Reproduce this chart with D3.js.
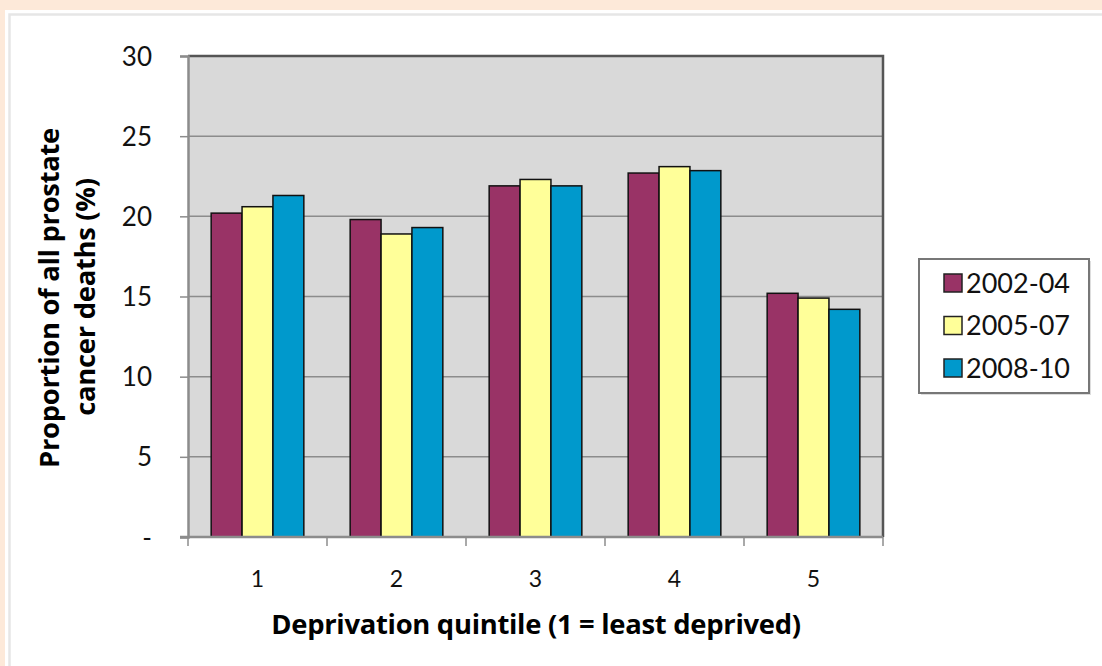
<!DOCTYPE html>
<html><head><meta charset="utf-8">
<script src="https://cdn.jsdelivr.net/npm/d3@7"></script>
<style>
html,body{margin:0;padding:0;background:#fde9d9;}
svg{display:block;}
</style></head>
<body>
<svg id="chart" width="1102" height="666"></svg>
<script>
const categories = ["1","2","3","4","5"];
const seriesNames = ["2002-04","2005-07","2008-10"];
const values2002_04 = [20.2, 19.8, 21.9, 22.7, 15.2];
const values2005_07 = [20.6, 18.9, 22.3, 23.1, 14.9];
const values2008_10 = [21.3, 19.3, 21.9, 22.85, 14.2];
const seriesColors = ["#993366", "#ffff99", "#0099cc"];
const yTicks = [0, 5, 10, 15, 20, 25, 30];
const yTickLabels = ["-", "5", "10", "15", "20", "25", "30"];

const allSeries = [values2002_04, values2005_07, values2008_10];
const font = "Lato, 'Open Sans', sans-serif";
const titleFont = "'Open Sans', Lato, sans-serif";

const svg = d3.select("#chart");
svg.append("rect").attr("x",5).attr("y",10).attr("width",1097).attr("height",656).attr("fill","#ffffff");
svg.append("path").attr("d","M9.5,666 V14.5 H1102").attr("fill","none").attr("stroke","#e6e6e6").attr("stroke-width",2.5);

const plot = {left:188, top:56, right:883, bottom:537};
const x0 = d3.scaleBand().domain(categories).range([plot.left, plot.right]).paddingInner(0).paddingOuter(0);
const bw = x0.bandwidth()/4.5;
const x1 = d3.scaleBand().domain(d3.range(3)).range([0, bw*3]);
const y = d3.scaleLinear().domain([0,30]).range([plot.bottom, plot.top]);

svg.append("rect").attr("x",plot.left).attr("y",plot.top).attr("width",plot.right-plot.left).attr("height",plot.bottom-plot.top).attr("fill","#d9d9d9");

svg.append("g").selectAll("line").data(yTicks.filter(t=>t>0 && t<30)).join("line")
  .attr("x1",plot.left).attr("x2",plot.right)
  .attr("y1",d=>y(d)).attr("y2",d=>y(d))
  .attr("stroke","#8c8c8c").attr("stroke-width",1.5);

const groups = svg.append("g").selectAll("g").data(categories).join("g")
  .attr("transform", c => `translate(${x0(c) + x0.bandwidth()/2 - 1.5*bw},0)`);
groups.selectAll("rect").data((c,i) => allSeries.map((s,j)=>({j, v:s[i]}))).join("rect")
  .attr("x", d => x1(d.j)).attr("width", x1.bandwidth())
  .attr("y", d => y(d.v)).attr("height", d => y(0)-y(d.v))
  .attr("fill", d => seriesColors[d.j])
  .attr("stroke","#111").attr("stroke-width",1.5);

svg.append("path").attr("d",`M${plot.left},${plot.top} H${plot.right} V${plot.bottom}`)
  .attr("fill","none").attr("stroke","#555").attr("stroke-width",2.5);

const yAxis = d3.axisLeft(y).tickValues(yTicks).tickSize(8).tickPadding(28)
  .tickFormat((d,i)=>yTickLabels[i]);
const gy = svg.append("g").attr("transform",`translate(${plot.left},0)`).call(yAxis);
gy.select(".domain").attr("stroke","#8c8c8c").attr("stroke-width",2.5);
gy.selectAll(".tick line").attr("stroke","#8c8c8c").attr("stroke-width",1.5);
gy.selectAll(".tick text").attr("font-family",font).attr("font-size",26).attr("fill","#111").attr("dy","0.35em");

const gxLine = svg.append("g");
gxLine.append("line").attr("x1",plot.left-8).attr("x2",plot.right).attr("y1",plot.bottom).attr("y2",plot.bottom)
  .attr("stroke","#8c8c8c").attr("stroke-width",2.5);
const boundaries = categories.map(c=>x0(c)).concat([plot.right]);
gxLine.selectAll("line.tk").data(boundaries).join("line").attr("class","tk")
  .attr("x1",d=>d).attr("x2",d=>d).attr("y1",plot.bottom).attr("y2",plot.bottom+9)
  .attr("stroke","#8c8c8c").attr("stroke-width",1.5);
svg.append("g").selectAll("text").data(categories).join("text")
  .attr("x", c => x0(c)+x0.bandwidth()/2).attr("y", 587)
  .attr("text-anchor","middle").attr("font-family",font).attr("font-size",23).attr("fill","#111")
  .text(c=>c);

function fitText(sel, target){
  const len = sel.node().getComputedTextLength();
  const fs = +sel.attr("font-size");
  sel.attr("font-size", fs*target/len);
}

const xt = svg.append("text").attr("x",536).attr("y",634).attr("text-anchor","middle")
  .attr("font-family",titleFont).attr("font-weight","bold").attr("font-size",24).attr("fill","#000")
  .attr("letter-spacing","-0.3")
  .text("Deprivation quintile (1 = least deprived)");
fitText(xt, 528);
const yt1 = svg.append("text").attr("transform","translate(59,298) rotate(-90)")
  .attr("text-anchor","middle").attr("font-family",titleFont).attr("font-weight","bold").attr("font-size",24).attr("fill","#000")
  .attr("letter-spacing","-0.3")
  .text("Proportion of all prostate");
fitText(yt1, 339);
const yt2 = svg.append("text").attr("transform","translate(95,297) rotate(-90)")
  .attr("text-anchor","middle").attr("font-family",titleFont).attr("font-weight","bold").attr("font-size",+yt1.attr("font-size")).attr("fill","#000")
  .attr("letter-spacing","-0.3")
  .text("cancer deaths (%)");

const lg = svg.append("g");
lg.append("rect").attr("x",921).attr("y",261).attr("width",170).attr("height",134).attr("fill","#bbb").attr("opacity",0.5);
lg.append("rect").attr("x",919).attr("y",259).attr("width",170).attr("height",134).attr("fill","#fff").attr("stroke","#777").attr("stroke-width",2);
const ly = d3.scalePoint().domain(seriesNames).range([283, 368]);
lg.selectAll("rect.sw").data(seriesNames).join("rect").attr("class","sw")
  .attr("x",944).attr("y",d=>ly(d)-9).attr("width",18).attr("height",18)
  .attr("fill",(d,i)=>seriesColors[i]).attr("stroke","#222").attr("stroke-width",1.5);
lg.selectAll("text").data(seriesNames).join("text")
  .attr("x",966).attr("y",d=>ly(d)).attr("dy","0.36em")
  .attr("font-family",font).attr("font-size",27).attr("fill","#111").text(d=>d);
</script>
</body></html>
